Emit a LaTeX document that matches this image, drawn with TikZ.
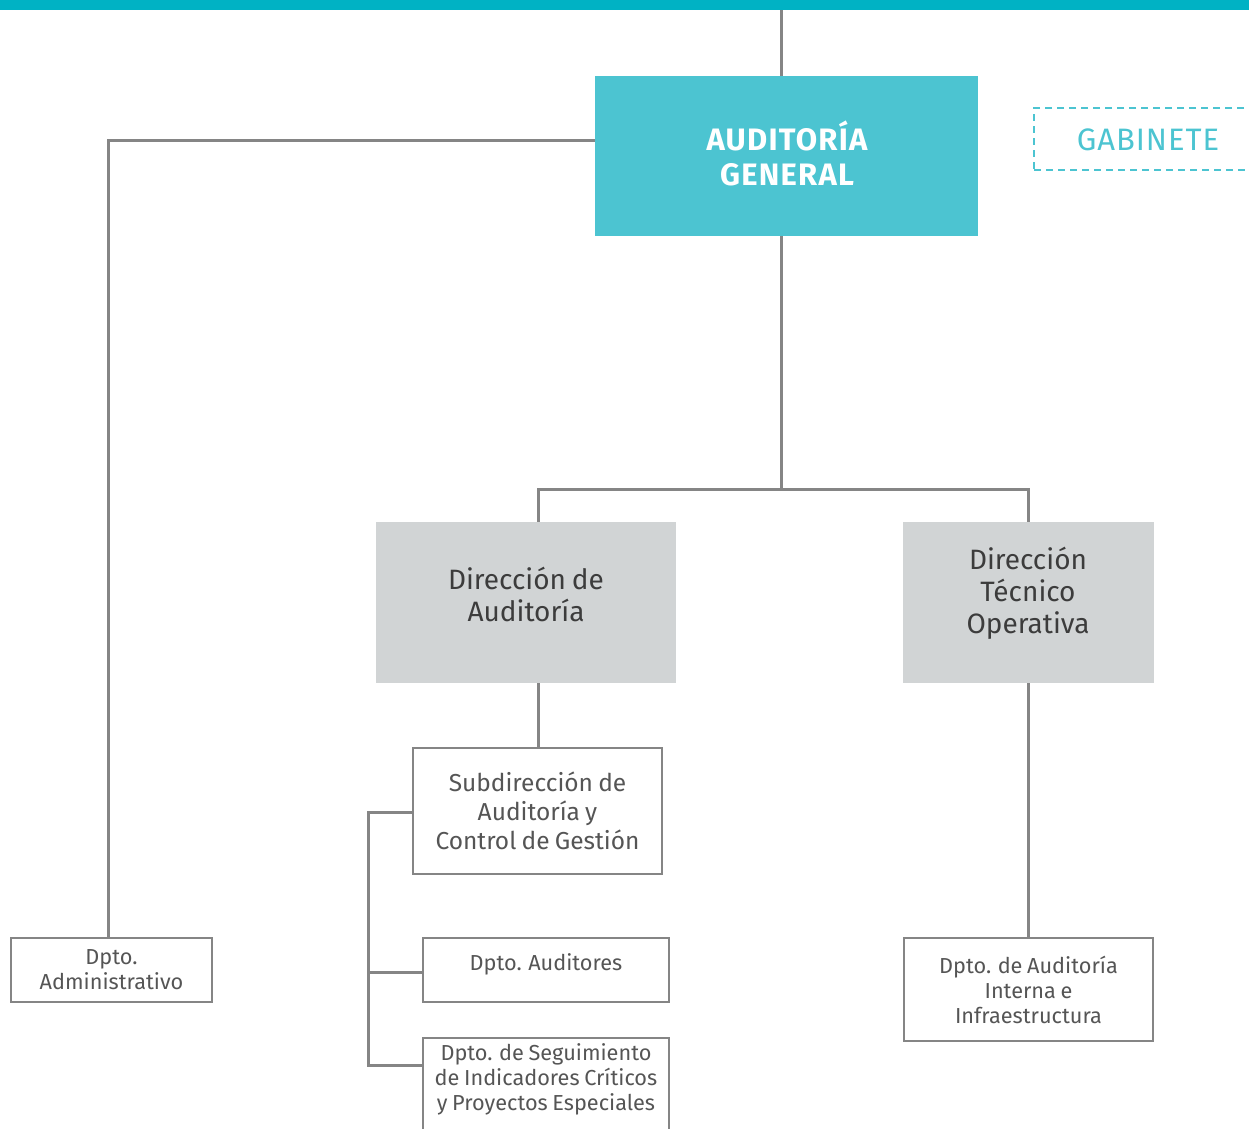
\documentclass[tikz,border=0pt]{standalone}
\usepackage{fontspec}
\setmainfont[WordSpace=0.8]{Fira Sans}
\usetikzlibrary{calc}
\definecolor{barteal}{HTML}{00B2C4}
\definecolor{agteal}{HTML}{4CC4D1}
\definecolor{linegray}{HTML}{858585}
\definecolor{boxgray}{HTML}{D1D4D5}
\definecolor{txtdark}{HTML}{3C3C3C}
\definecolor{txtgray}{HTML}{555555}
\tikzset{
  conn/.style={draw=linegray, line width=3pt},
  topbox/.style={rectangle, fill=agteal, inner sep=0pt},
  toptext/.style={text=white, font=\fontsize{31}{35}\selectfont\bfseries\addfontfeatures{LetterSpace=4}, align=center, inner sep=0pt},
  dirbox/.style={rectangle, fill=boxgray, inner sep=0pt},
  dirtext/.style={text=txtdark, font=\fontsize{28}{32}\selectfont, align=center, inner sep=0pt},
  subbox/.style={rectangle, draw=linegray, line width=2.5pt, fill=white, text=txtgray, font=\fontsize{24.5}{29}\selectfont, align=center, inner sep=0pt},
  deptbox/.style={rectangle, draw=linegray, line width=2.5pt, fill=white, text=txtgray, font=\fontsize{21.7}{25}\selectfont, align=center, inner sep=0pt},
  depttext/.style={text=txtgray, font=\fontsize{21.7}{25}\selectfont, align=center, inner sep=0pt},
  gabbox/.style={rectangle, draw=agteal, dash pattern=on 7pt off 5pt, line width=2.5pt, inner sep=0pt},
  gabtext/.style={text=agteal, font=\fontsize{31}{36}\selectfont\addfontfeatures{LetterSpace=3}, inner sep=0pt}
}
\begin{document}
\begin{tikzpicture}[x=1pt,y=-1pt]
\useasboundingbox (0,0) rectangle (1249,1128);
\clip (0,0) rectangle (1249,1128);
\fill[barteal] (0,0) rectangle (1249,10);
\coordinate (topc) at (781,10);

\node[topbox, minimum width=383pt, minimum height=160pt] (ag) at (786.5,156) {};
\node[toptext] (agtxt) at (787,153) {AUDITORÍA\\GENERAL};
\node[gabbox, minimum width=230pt, minimum height=62pt] (gab) at (1149,139) {};
\node[gabtext] (gabtxt) at (1148,140) {GABINETE};

\node[dirbox, minimum width=300pt, minimum height=161pt] (da) at (526,602.5) {};
\node[dirtext] (datxt) at (526,594) {Dirección de\\Auditoría};
\node[dirbox, minimum width=251pt, minimum height=161pt] (dt) at (1028.5,602.5) {};
\node[dirtext] (dttxt) at (1028,593) {Dirección\\Técnico\\Operativa};

\node[subbox, minimum width=249pt, minimum height=126pt] (sub) at (537.5,811) {Subdirección de\\Auditoría y\\Control de Gestión};

\node[deptbox, minimum width=201pt, minimum height=64pt] (adm) at (111.5,970) {Dpto.\\Administrativo};
\node[deptbox, minimum width=246pt, minimum height=64pt] (aud) at (546,970) {};
\node[depttext] (audtxt) at (546,964) {Dpto. Auditores};
\node[deptbox, minimum width=246pt, minimum height=110pt] (seg) at (546,1093) {};
\node[depttext] (segtxt) at (546,1079) {Dpto. de Seguimiento\\de Indicadores Críticos\\y Proyectos Especiales};
\node[deptbox, minimum width=249pt, minimum height=103pt] (int) at (1028.5,989.5) {Dpto. de Auditoría\\Interna e\\Infraestructura};

\coordinate (segin) at (seg.west |- 0,1065);

\draw[conn] (topc) -- (ag.north -| topc);
\draw[conn] (ag.west |- 0,140) -| (adm.north -| 108,0);
\draw[conn] (ag.south -| topc) -- (781,489) coordinate (split);
\draw[conn] (da.north -| 538,0) |- (split) -| (dt.north);
\draw[conn] (da.south -| 538,0) -- (sub.north -| 538,0);
\draw[conn] (sub.west |- 0,812) -| (segin -| 368,0) -- (segin);
\draw[conn] (368,972) -- (aud.west |- 0,972);
\draw[conn] (dt.south) -- (int.north);
\end{tikzpicture}
\end{document}
